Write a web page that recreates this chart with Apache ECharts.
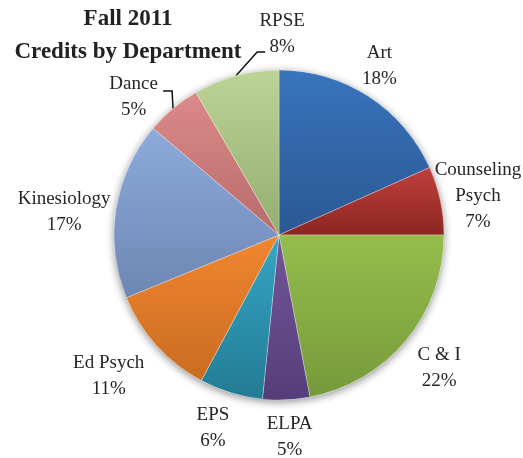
<!DOCTYPE html>
<html><head><meta charset="utf-8">
<script src="https://cdn.jsdelivr.net/npm/echarts@6/dist/echarts.min.js"></script>
<style>html,body{margin:0;padding:0;background:#fff}#c{width:523px;height:458px}</style>
</head><body><div id="c"></div>
<script>
const titleLines = ['Fall 2011', 'Credits by Department'];
const categories = ['Art', 'Counseling\nPsych', 'C & I', 'ELPA', 'EPS', 'Ed Psych', 'Kinesiology', 'Dance', 'RPSE'];
const values = [18.3, 6.7, 22.0, 4.6, 6.2, 11.0, 17.4, 5.4, 8.4];
const topColors = ['#3974bd', '#c0403c', '#95bd4c', '#735799', '#35a6c4', '#f2862f', '#8eabdc', '#dc8a89', '#bcd495'];
const bottomColors = ['#2a5893', '#8c2522', '#769a3b', '#553d7a', '#237b95', '#c96c21', '#6d86b3', '#b66b6a', '#93ad72'];

// label placement (polar, around the pie centre) and leader-line styling
const CX = 279, CY = 235, R = 165;
const labelDist = [196, 202.5, 209, 203, 205, 222, 216, 199.5, 200];
const labelAngleDeg = [30.8, 79.3, 130.0, 177.0, 198.8, 230.1, 275.8, 313.2, 0.9];
const leader = {7: {dx: 29.5, dy: -7.5, elbow: 9}, 8: {dx: -17, dy: 17, elbow: -8}};

const total = values.reduce((a, b) => a + b, 0);
const midAngles = [];
let acc = 0;
values.forEach(v => { midAngles.push((acc + v / 2) / total * 2 * Math.PI); acc += v; });

const chart = echarts.init(document.getElementById('c'), null, {renderer: 'canvas'});
chart.setOption({
  animation: false,
  title: {
    text: titleLines.join('\n'),
    left: 123, top: -2, textAlign: 'center',
    textStyle: {fontFamily: 'Liberation Serif', fontWeight: 'bold', fontSize: 23, lineHeight: 33, color: '#222'}
  },
  series: [{
    type: 'pie',
    center: [CX, CY],
    radius: [0, R],
    silent: true,
    z: 1,
    label: {show: false},
    labelLine: {show: false},
    itemStyle: {color: '#fff', shadowBlur: 8, shadowColor: 'rgba(0,0,0,0.45)', shadowOffsetY: 2},
    data: [{value: 1, name: ''}],
    emphasis: {disabled: true}
  }, {
    type: 'pie',
    z: 2,
    center: [CX, CY],
    radius: [0, R],
    startAngle: 90,
    clockwise: true,
    avoidLabelOverlap: false,
    data: categories.map((name, i) => ({
      name, value: values[i],
      itemStyle: {
        color: new echarts.graphic.LinearGradient(0, 0, 0, 1, [
          {offset: 0, color: topColors[i]}, {offset: 1, color: bottomColors[i]}
        ])
      },
      labelLine: {show: !!leader[i]}
    })),
    itemStyle: {borderColor: 'rgba(255,255,255,0.5)', borderWidth: 0.6},
    label: {
      show: true, position: 'outside',
      formatter: p => p.name + '\n' + Math.round(p.value / total * 100) + '%',
      fontFamily: 'Liberation Serif', fontSize: 19, lineHeight: 26, color: '#262626', align: 'center'
    },
    labelLine: {show: false, length: 8, length2: 8, lineStyle: {color: '#111', width: 1.5}},
    labelLayout: p => {
      const i = p.dataIndex;
      const a = labelAngleDeg[i] * Math.PI / 180, d = labelDist[i];
      const x = CX + d * Math.sin(a), y = CY - d * Math.cos(a) - 1;
      const out = {x, y, align: 'center', verticalAlign: 'middle'};
      const L = leader[i];
      if (L) {
        const m = midAngles[i];
        const sx = CX + R * Math.sin(m), sy = CY - R * Math.cos(m);
        const ex = x + L.dx, ey = y + 1 + L.dy;
        out.labelLinePoints = [[sx, sy], [ex + L.elbow, ey], [ex, ey]];
      }
      return out;
    },
    emphasis: {disabled: true}
  }]
});
</script></body></html>
